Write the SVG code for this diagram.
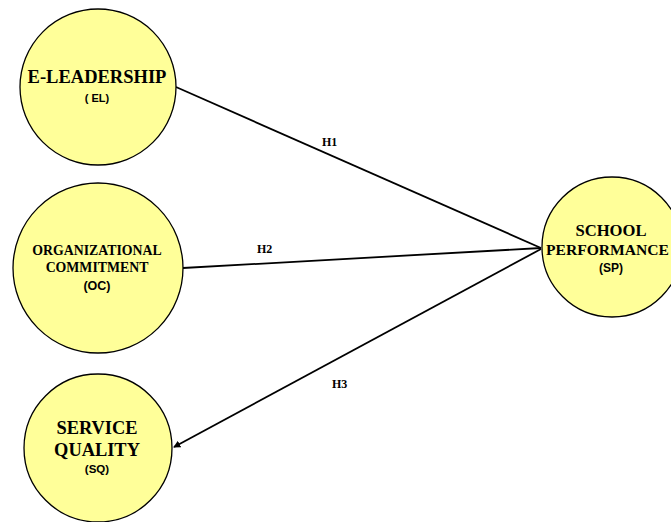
<svg xmlns="http://www.w3.org/2000/svg" width="671" height="522" viewBox="0 0 671 522">
<defs>
<style>
.node{fill:#FFFF99;stroke:#000;stroke-width:1.3}
.t{font-family:"Liberation Serif","Times New Roman",serif;font-weight:bold;text-anchor:middle;fill:#000}
.a{font-family:"Liberation Sans",Arial,sans-serif;font-weight:bold;text-anchor:middle;fill:#000}
.h{font-family:"Liberation Serif","Times New Roman",serif;font-weight:bold;font-size:12px;fill:#000}
.c{stroke:#000;stroke-width:1.8;fill:none}
</style>
<marker id="ah" viewBox="0 0 8 8" refX="7" refY="4" markerWidth="4" markerHeight="4" orient="auto" markerUnits="strokeWidth">
<path d="M0,0 L8,4 L0,8 z" fill="#000"/>
</marker>
</defs>
<rect width="671" height="522" fill="#fff"/>
<g id="connectors">
<line class="c" x1="176" y1="87" x2="541" y2="248" stroke="#333"/>
<line class="c" x1="183" y1="268" x2="541" y2="248"/>
<line class="c" x1="541" y1="249" x2="174" y2="447" marker-end="url(#ah)"/>
<text class="h" x="322" y="146">H1</text>
<text class="h" x="257" y="253">H2</text>
<text class="h" x="332" y="388">H3</text>
</g>
<g id="node-el">
<circle class="node" cx="98" cy="87" r="78"/>
<text class="t" x="97" y="83" font-size="18.5">E-LEADERSHIP</text>
<text class="a" x="97" y="102" font-size="11">( EL)</text>
</g>
<g id="node-oc">
<circle class="node" cx="98" cy="268" r="85"/>
<text class="t" x="97" y="255" font-size="13.8">ORGANIZATIONAL</text>
<text class="t" x="97" y="272" font-size="13.8">COMMITMENT</text>
<text class="a" x="97" y="290" font-size="12.5">(OC)</text>
</g>
<g id="node-sq">
<circle class="node" cx="98" cy="448" r="74"/>
<text class="t" x="97" y="434" font-size="18.4">SERVICE</text>
<text class="t" x="97" y="456" font-size="18.4">QUALITY</text>
<text class="a" x="97" y="473" font-size="11.5">(SQ)</text>
</g>
<g id="node-sp">
<circle class="node" cx="612" cy="247" r="70"/>
<text class="t" x="611" y="236" font-size="16.6">SCHOOL</text>
<text class="t" x="546" y="255" font-size="15.6" style="text-anchor:start">PERFORMANCE</text>
<text class="a" x="611" y="272" font-size="12">(SP)</text>
</g>
</svg>
